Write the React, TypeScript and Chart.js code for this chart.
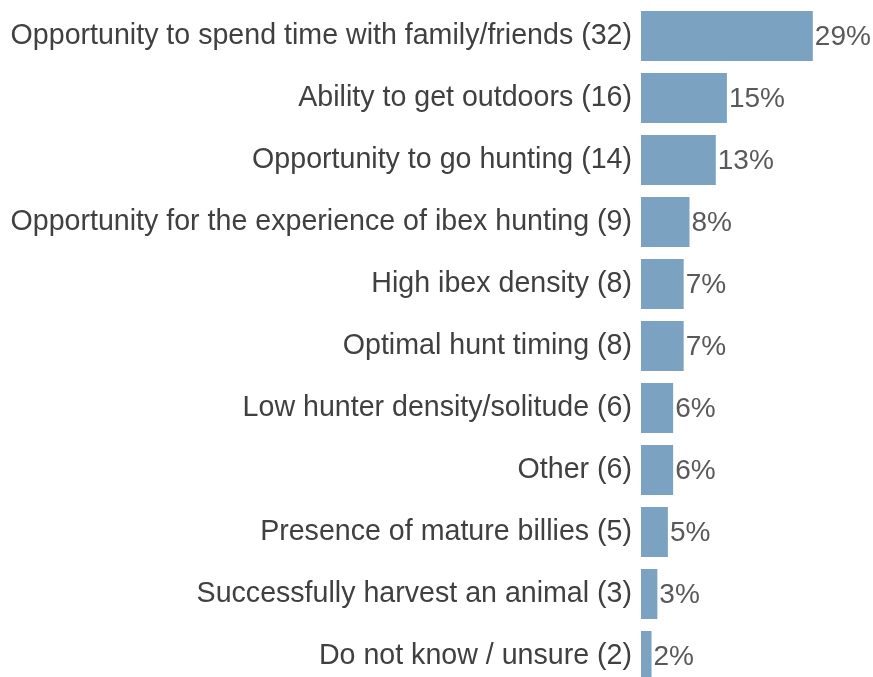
import React, { useEffect, useRef } from "react";
import { Chart, registerables } from "chart.js";

Chart.register(...registerables);

const categories = [
  "Opportunity to spend time with family/friends (32)",
  "Ability to get outdoors (16)",
  "Opportunity to go hunting (14)",
  "Opportunity for the experience of ibex hunting (9)",
  "High ibex density (8)",
  "Optimal hunt timing (8)",
  "Low hunter density/solitude (6)",
  "Other (6)",
  "Presence of mature billies (5)",
  "Successfully harvest an animal (3)",
  "Do not know / unsure (2)",
];
const shares = [29.4, 14.7, 12.8, 8.3, 7.3, 7.3, 5.5, 5.5, 4.6, 2.8, 1.8];
const pctLabels = ["29%", "15%", "13%", "8%", "7%", "7%", "6%", "6%", "5%", "3%", "2%"];

const FONT = "'Liberation Sans', Arial, sans-serif";

const valueLabels = {
  id: "valueLabels",
  afterDatasetsDraw(chart: any) {
    const ctx = chart.ctx;
    const meta = chart.getDatasetMeta(0);
    ctx.save();
    ctx.font = `28px ${FONT}`;
    ctx.fillStyle = "#595959";
    ctx.textAlign = "left";
    ctx.textBaseline = "middle";
    meta.data.forEach((bar: any, i: number) => {
      ctx.fillText(pctLabels[i], bar.x + 2, bar.y + 1);
    });
    ctx.restore();
  },
};

export default function App() {
  const ref = useRef<HTMLCanvasElement>(null);
  useEffect(() => {
    document.body.style.margin = "0";
    const chart = new Chart(ref.current!, {
      type: "bar",
      data: {
        labels: categories,
        datasets: [
          {
            data: shares,
            backgroundColor: "#7BA2C1",
            borderWidth: 0,
            barPercentage: 50 / 62,
            categoryPercentage: 1,
          },
        ],
      },
      options: {
        indexAxis: "y",
        animation: false,
        responsive: false,
        layout: { padding: { top: 5, bottom: 3, left: 0, right: 0 } },
        plugins: { legend: { display: false }, tooltip: { enabled: false } },
        scales: {
          x: { display: false, min: 0, max: 39.7 },
          y: {
            grid: { display: false, drawTicks: false },
            border: { display: false },
            ticks: {
              padding: 9,
              color: "#404040",
              font: { family: FONT, size: 28.6 },
              autoSkip: false,
            },
            afterFit(scale: any) {
              scale.width = 641;
              scale.paddingTop = 0;
              scale.paddingBottom = 0;
            },
          },
        },
      },
      plugins: [valueLabels],
    });
    return () => chart.destroy();
  }, []);
  return (
    <div style={{ width: 873, height: 677, overflow: "hidden" }}>
      <canvas ref={ref} width={873} height={690} style={{ display: "block" }} />
    </div>
  );
}
